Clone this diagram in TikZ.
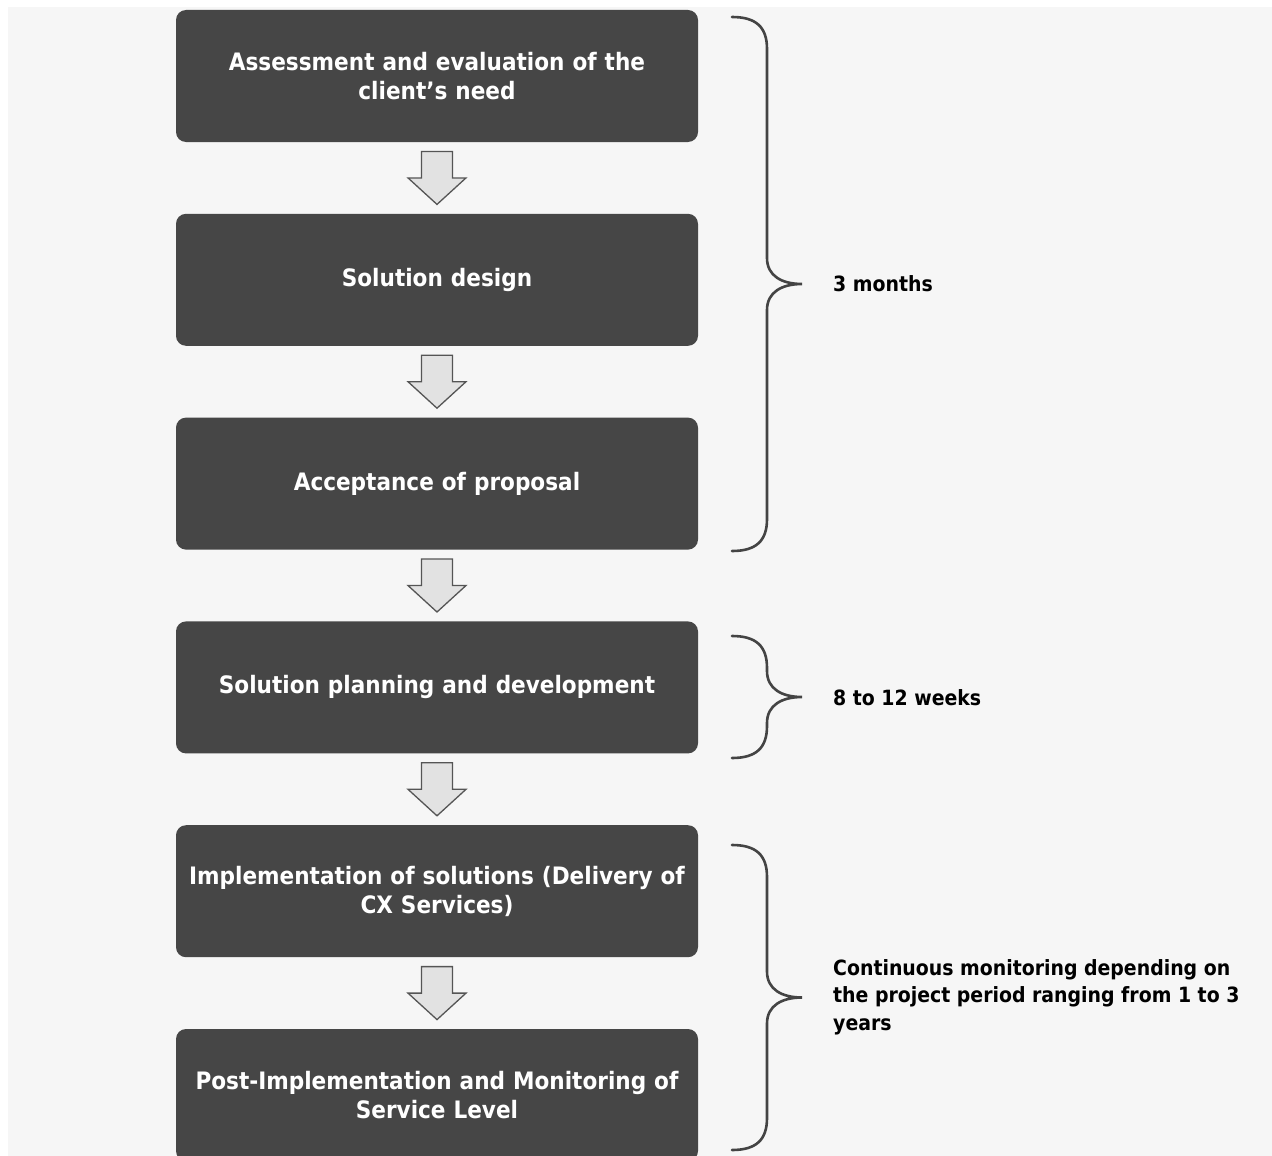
\documentclass[tikz,border=0pt]{standalone}
\usepackage{fontspec}
\setmainfont{DejaVu Sans Condensed}
\usetikzlibrary{calc}
\definecolor{boxgray}{HTML}{464646}
\definecolor{bggray}{HTML}{F6F6F6}
\definecolor{arrowfill}{HTML}{E2E2E2}
\definecolor{arrowline}{HTML}{555555}
\definecolor{bracecol}{HTML}{444444}
\newcommand\blockarrow[2]{%
  \path (#1.south) -- (#2.north) coordinate[pos=0.5] (#1-#2-m);
  \draw[blkarrow] ($(#1-#2-m)+(-15.5,-26.5)$) -- ($(#1-#2-m)+(15.5,-26.5)$)
    -- ($(#1-#2-m)+(15.5,0)$) -- ($(#1-#2-m)+(29,0)$) -- ($(#1-#2-m)+(0,26.5)$)
    -- ($(#1-#2-m)+(-29,0)$) -- ($(#1-#2-m)+(-15.5,0)$) -- cycle;}
\newcommand\timebrace[2]{%
  \pgfmathsetmacro\bmid{(#1+#2)/2}%
  \draw[bracestyle] (732,#1) .. controls (756,#1) and (767,{#1+10}) .. (767,{#1+32})
    -- (767,{\bmid-26}) .. controls (767,{\bmid-8}) and (782,\bmid) .. (802,\bmid)
    .. controls (782,\bmid) and (767,{\bmid+8}) .. (767,{\bmid+26})
    -- (767,{#2-32}) .. controls (767,{#2-10}) and (756,#2) .. (732,#2);}
\begin{document}
\begin{tikzpicture}[x=1pt,y=-1pt,
  stepbox/.style={fill=boxgray, rounded corners=10pt, minimum width=522pt,
    minimum height=132pt, text=white, align=center, text width=515pt, inner sep=0pt,
    font=\fontsize{24}{29}\selectfont\bfseries},
  blkarrow/.style={fill=arrowfill, draw=arrowline, line width=1.3pt, line join=miter},
  bracestyle/.style={draw=bracecol, line width=2.6pt, line cap=round},
  lbl/.style={anchor=west, align=left, inner sep=0pt, text=black,
    font=\fontsize{21}{27.5}\selectfont\bfseries}]
\useasboundingbox (0,0) rectangle (1272,1156);
\clip (0,0) rectangle (1272,1156);
\fill[white] (0,0) rectangle (1272,1156);
\fill[bggray] (8,7) rectangle (1272,1156);
\node[stepbox] (b1) at (437,76) {Assessment and evaluation of the\\client’s need};
\node[stepbox] (b2) at (437,279.8) {Solution design};
\node[stepbox] (b3) at (437,483.6) {Acceptance of proposal};
\node[stepbox] (b4) at (437,687.4) {Solution planning and development};
\node[stepbox] (b5) at (437,891.2) {Implementation of solutions (Delivery of\\CX Services)};
\node[stepbox] (b6) at (437,1095) {Post-Implementation and Monitoring of\\Service Level};
\blockarrow{b1}{b2}
\blockarrow{b2}{b3}
\blockarrow{b3}{b4}
\blockarrow{b4}{b5}
\blockarrow{b5}{b6}
\timebrace{17}{551}
\timebrace{636}{758}
\timebrace{845}{1150}
\node[lbl] (t1) at (833,284) {3 months};
\node[lbl] (t2) at (833,698) {8 to 12 weeks};
\node[lbl] (t3) at (833,997) {Continuous monitoring depending on\\the project period ranging from 1 to 3\\years};
\end{tikzpicture}
\end{document}
